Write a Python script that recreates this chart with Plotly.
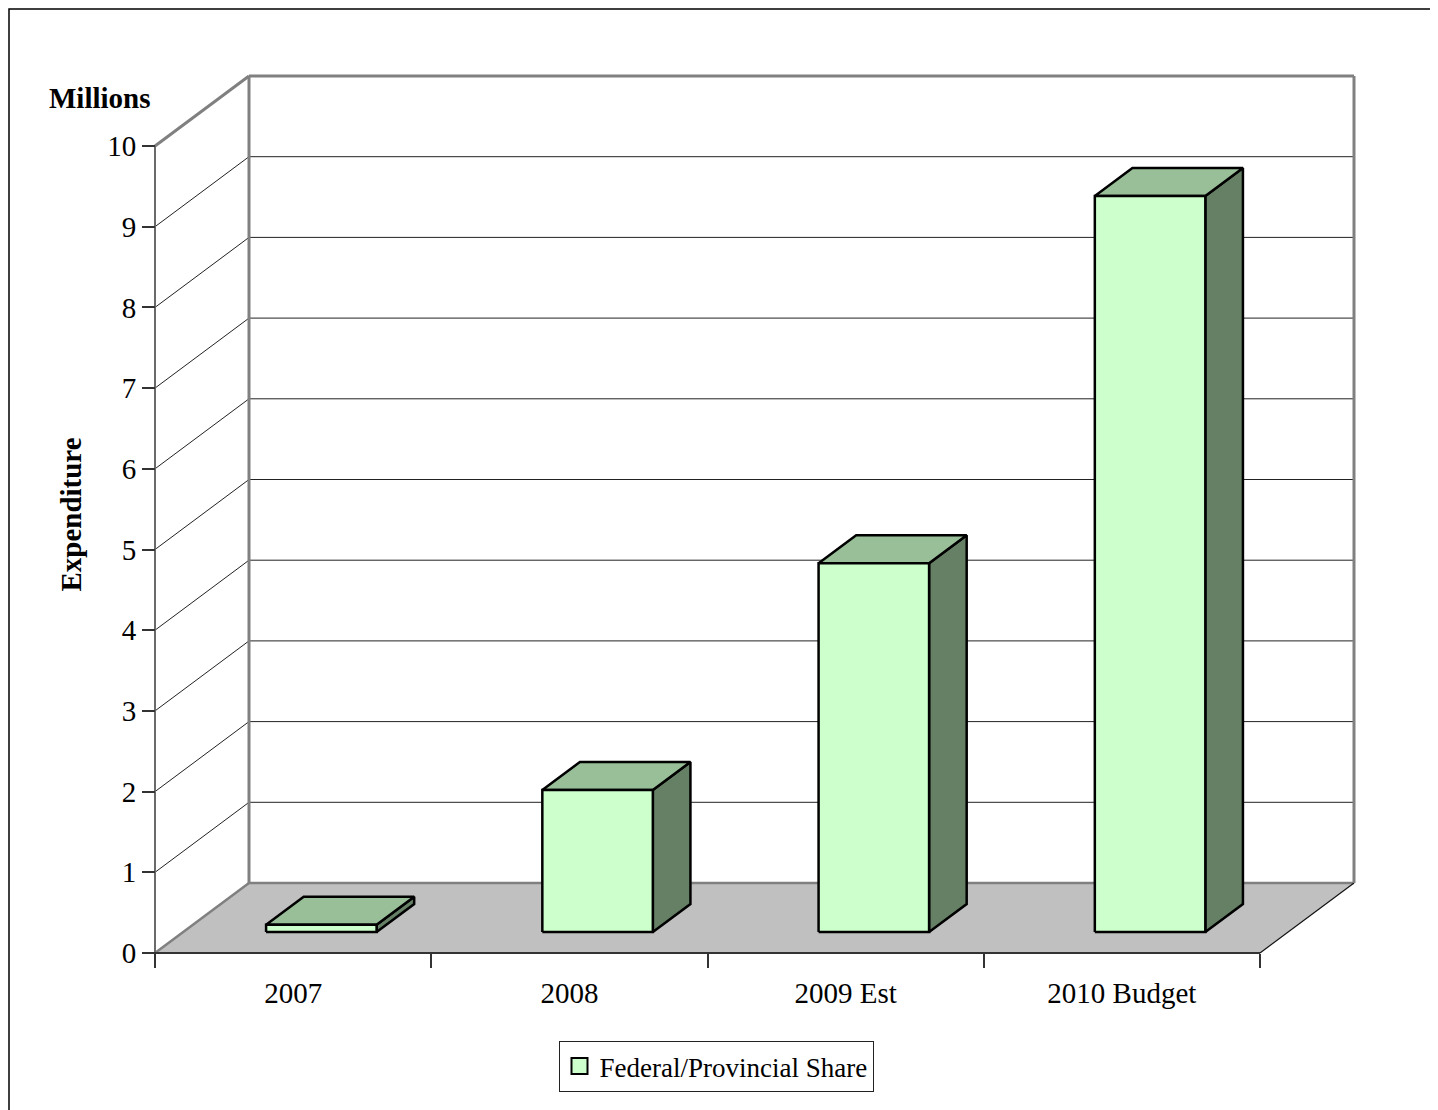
import plotly.graph_objects as go

# ---- data ----
categories = ["2007", "2008", "2009 Est", "2010 Budget"]
values = [0.09, 1.76, 4.57, 9.12]
y_ticks = list(range(0, 11))
series_name = "Federal/Provincial Share"

# ---- styling / geometry ----
FONT = "Liberation Serif"
FS = 29
FRONT = "#CCFFCC"
TOP = "#99BF99"
SIDE = "#668066"
FLOOR = "#C0C0C0"
WALL_EDGE = "#808080"
GRID = "#222222"

OFF = 8                    # page body margin in the browser
W, H = 1438 - OFF, 1110 - OFF
PX_X = 276.25      # pixels per category unit
PX_Y = 80.7        # pixels per value unit
DX = 94 / PX_X     # depth offset in category units
DY = 70 / PX_Y     # depth offset in value units
PAD = 20           # px padding around the 3D box inside plot area
BAR_W = 0.4
D_FRONT, D_BACK = 0.3, 0.7
YMAX = 10
N = len(categories)

left_px, top_px = 135 - OFF, 56 - OFF
padx, pady = PAD / PX_X, PAD / PX_Y
xr = [-padx, N + DX + padx]
yr = [-pady, YMAX + DY + pady]
plot_w = (xr[1] - xr[0]) * PX_X
plot_h = (yr[1] - yr[0]) * PX_Y
margin = dict(l=left_px, t=top_px, r=W - left_px - plot_w, b=H - top_px - plot_h, pad=0)


def P(x, y, d):
    return x + d * DX, y + d * DY


def poly(pts):
    xs = [p[0] for p in pts] + [pts[0][0]]
    ys = [p[1] for p in pts] + [pts[0][1]]
    return xs, ys


fig = go.Figure()


def add_poly(pts, fill, line_color, lw):
    xs, ys = poly(pts)
    fig.add_trace(go.Scatter(x=xs, y=ys, mode="lines", fill="toself",
                             fillcolor=fill, line=dict(color=line_color, width=lw),
                             hoverinfo="skip", showlegend=False))


def add_line(p0, p1, color, lw):
    fig.add_trace(go.Scatter(x=[p0[0], p1[0]], y=[p0[1], p1[1]], mode="lines",
                             line=dict(color=color, width=lw), hoverinfo="skip",
                             showlegend=False))


# floor
add_poly([P(0, 0, 0), P(N, 0, 0), P(N, 0, 1), P(0, 0, 1)], FLOOR, "rgba(0,0,0,0)", 0)

# gridlines on walls
for k in y_ticks[1:-1]:
    add_line(P(0, k, 0), P(0, k, 1), GRID, 1)
    add_line(P(0, k, 1), P(N, k, 1), GRID, 1)

# wall / floor edges
add_line(P(0, 0, 0), P(0, 0, 1), WALL_EDGE, 2.5)          # floor left diagonal
add_line(P(0, 0, 1), P(N, 0, 1), WALL_EDGE, 2.5)          # floor back edge
add_line(P(N, 0, 0), P(N, 0, 1), "#111111", 1.2)          # floor right diagonal
add_line(P(0, 0, 1), P(0, YMAX, 1), WALL_EDGE, 3)         # back-left vertical
add_line(P(0, YMAX, 0), P(0, YMAX, 1), WALL_EDGE, 3)      # top diagonal
add_line(P(0, YMAX, 1), P(N, YMAX, 1), WALL_EDGE, 3)      # top back edge
add_line(P(N, 0, 1), P(N, YMAX, 1), WALL_EDGE, 3)         # right back edge
add_line(P(0, 0, 0), P(0, YMAX, 0), "#6a6a6a", 2)         # value axis line
add_line(P(0, 0, 0), P(N, 0, 0), "#333333", 2)            # category axis line

# bars
for i, v in enumerate(values):
    x0 = i + 0.5 - BAR_W / 2
    x1 = i + 0.5 + BAR_W / 2
    side = [P(x1, 0, D_FRONT), P(x1, 0, D_BACK), P(x1, v, D_BACK), P(x1, v, D_FRONT)]
    top = [P(x0, v, D_FRONT), P(x1, v, D_FRONT), P(x1, v, D_BACK), P(x0, v, D_BACK)]
    front = [P(x0, 0, D_FRONT), P(x1, 0, D_FRONT), P(x1, v, D_FRONT), P(x0, v, D_FRONT)]
    add_poly(side, SIDE, "black", 2.5)
    add_poly(top, TOP, "black", 2.5)
    add_poly(front, FRONT, "black", 2.5)

# legend entry
fig.add_trace(go.Scatter(x=[None], y=[None], mode="markers", name=series_name,
                         marker=dict(symbol="square", size=16, color=FRONT,
                                     line=dict(color="black", width=2)),
                         showlegend=True))

x_pos = padx / (xr[1] - xr[0])
y_pos = pady / (yr[1] - yr[0])


def paper_x(px):
    return (px - OFF - left_px) / plot_w


def paper_y(py):
    return (top_px + plot_h - (py - OFF)) / plot_h


tickfont = dict(family=FONT, size=FS, color="black")

fig.update_layout(
    width=W, height=H, margin=margin,
    paper_bgcolor="white", plot_bgcolor="white",
    showlegend=True,
    legend=dict(x=paper_x(716), y=paper_y(1041), xanchor="center", yanchor="top",
                orientation="h", bordercolor="#222222", borderwidth=1,
                font=dict(family=FONT, size=27, color="black"),
                itemsizing="trace", itemwidth=30, bgcolor="white"),
    xaxis=dict(range=xr, anchor="free", position=y_pos, showgrid=False, zeroline=False,
               showline=False, tickmode="array", tickvals=list(range(N + 1)),
               ticks="outside", ticklen=14, tickwidth=1.5, tickcolor="#333333",
               showticklabels=False, fixedrange=True),
    xaxis2=dict(range=xr, anchor="free", position=y_pos, overlaying="x", showgrid=False,
                zeroline=False, showline=False, tickmode="array",
                tickvals=[i + 0.5 for i in range(N)], ticktext=categories, ticks="",
                tickfont=tickfont, ticklabelstandoff=20, side="bottom"),
    yaxis=dict(range=yr, anchor="free", position=x_pos, showgrid=False, zeroline=False,
               showline=False, tickmode="array", tickvals=y_ticks,
               ticktext=[str(t) for t in y_ticks],
               ticks="outside", ticklen=13, tickwidth=1.5, tickcolor="#333333",
               tickfont=tickfont, ticklabelstandoff=0, fixedrange=True,
               title=dict(text="<b>Expenditure</b>", font=dict(family=FONT, size=FS, color="black"),
                          standoff=16)),
    annotations=[dict(text="<b>Millions</b>", xref="paper", yref="paper",
                      x=paper_x(100), y=paper_y(98), xanchor="center", yanchor="middle",
                      showarrow=False, font=dict(family=FONT, size=FS, color="black"))],
    shapes=[dict(type="rect", xref="paper", yref="paper",
                 x0=paper_x(OFF + 1), x1=paper_x(1438 + 10), y0=paper_y(1110 + 10),
                 y1=paper_y(OFF + 1),
                 line=dict(color="black", width=1.5), fillcolor="rgba(0,0,0,0)", layer="below")],
)

# dummy trace on xaxis2 so its tick labels render
fig.add_trace(go.Scatter(x=[None], y=[None], xaxis="x2", showlegend=False, hoverinfo="skip"))

fig.write_html("out.html")
